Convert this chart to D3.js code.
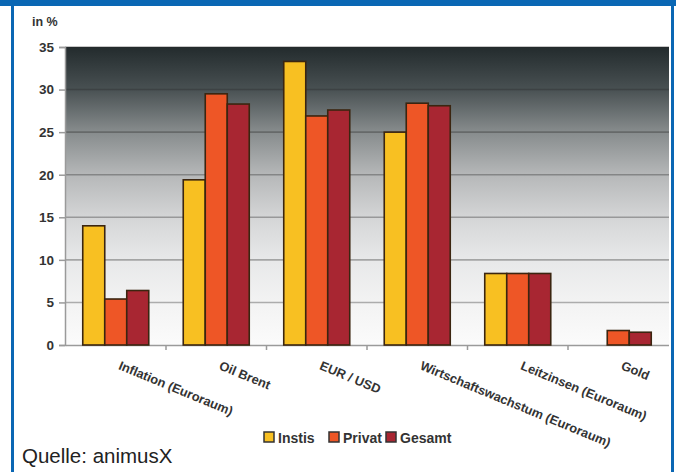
<!DOCTYPE html>
<html>
<head>
<meta charset="utf-8">
<script src="https://cdn.jsdelivr.net/npm/d3@7/dist/d3.min.js"></script>
<style>
  html, body { margin: 0; padding: 0; background: #fff; }
  svg { display: block; font-family: "Liberation Sans", Arial, sans-serif; }
</style>
</head>
<body>
<svg id="chart" width="676" height="472"></svg>
<script>
const categories = ["Inflation (Euroraum)", "Oil Brent", "EUR / USD", "Wirtschaftswachstum (Euroraum)", "Leitzinsen (Euroraum)", "Gold"];
const seriesNames = ["Instis", "Privat", "Gesamt"];
const instis = [14.0, 19.4, 33.3, 25.0, 8.4, 0];
const privat = [5.4, 29.5, 26.9, 28.4, 8.4, 1.7];
const gesamt = [6.4, 28.3, 27.6, 28.1, 8.4, 1.5];
const yTicks = [0, 5, 10, 15, 20, 25, 30, 35];
const colors = ["#f8c022", "#ee5626", "#a82632"];

const seriesValues = [instis, privat, gesamt];
const svg = d3.select("#chart");

// frame
const blue = "#0a67b4";
svg.append("rect").attr("x", 0).attr("y", 0).attr("width", 676).attr("height", 6).attr("fill", blue);
svg.append("rect").attr("x", 11).attr("y", 0).attr("width", 3).attr("height", 472).attr("fill", blue);
svg.append("rect").attr("x", 671).attr("y", 0).attr("width", 3).attr("height", 472).attr("fill", blue);

const plotL = 65, plotR = 669, plotT = 47, plotB = 345;
const x0 = d3.scaleBand().domain(categories).range([plotL + 0.5, plotR - 0.5]).padding(0);
const xs = d3.scaleBand().domain(seriesNames).range([0, x0.bandwidth()]).paddingInner(0).paddingOuter(0.784);
const y = d3.scaleLinear().domain([0, 35]).range([plotB, plotT]);

// gradient background
const defs = svg.append("defs");
const grad = defs.append("linearGradient").attr("id", "bg").attr("x1", 0).attr("y1", 0).attr("x2", 0).attr("y2", 1);
[[0, "#232b2d"], [0.14, "#485052"], [0.28, "#858a8b"], [0.43, "#b6b8b9"], [0.57, "#d4d5d6"], [0.71, "#e7e8e9"], [0.86, "#f3f3f3"], [1, "#fbfbfb"]]
  .forEach(([o, c]) => grad.append("stop").attr("offset", o).attr("stop-color", c));

svg.append("rect").attr("x", plotL).attr("y", plotT).attr("width", plotR - plotL).attr("height", plotB - plotT)
  .attr("fill", "url(#bg)");

// gridlines
svg.append("g").selectAll("line").data(yTicks.filter(d => d > 0)).join("line")
  .attr("x1", plotL).attr("x2", plotR)
  .attr("y1", d => y(d)).attr("y2", d => y(d))
  .attr("stroke", "rgba(40,40,40,0.35)").attr("stroke-width", 1.6);

// y axis
const yAxis = d3.axisLeft(y).tickValues(yTicks).tickSize(6).tickPadding(6);
const gy = svg.append("g").attr("transform", `translate(${plotL},0)`).call(yAxis);
gy.select(".domain").attr("stroke", "#9a9a9a").attr("stroke-width", 1.5);
gy.selectAll(".tick line").attr("stroke", "#9a9a9a").attr("stroke-width", 1.5);
gy.selectAll(".tick text").attr("font-size", 13.5).attr("font-weight", "bold").attr("fill", "#333").attr("x", -11);

// x axis
const xAxis = d3.axisBottom(x0).tickSize(0).tickFormat("");
const gx = svg.append("g").attr("transform", `translate(0,${plotB})`).call(xAxis);
gx.select(".domain").attr("stroke", "#9a9a9a").attr("stroke-width", 1.5);
// boundary ticks
svg.append("g").selectAll("line").data(categories.slice(1)).join("line")
  .attr("x1", d => x0(d)).attr("x2", d => x0(d))
  .attr("y1", plotB).attr("y2", plotB + 5)
  .attr("stroke", "#9a9a9a").attr("stroke-width", 1.5);

// bars
const groups = svg.append("g").selectAll("g").data(categories).join("g")
  .attr("transform", d => `translate(${x0(d)},0)`);
groups.selectAll("rect")
  .data((c, i) => seriesNames.map((s, j) => ({ s, v: seriesValues[j][i], j })).filter(d => d.v > 0))
  .join("rect")
  .attr("x", d => xs(d.s))
  .attr("width", xs.bandwidth())
  .attr("y", d => y(d.v))
  .attr("height", d => y(0) - y(d.v))
  .attr("fill", d => colors[d.j])
  .attr("stroke", "#3b2510").attr("stroke-width", 1.6);

// category labels
svg.append("g").selectAll("text").data(categories).join("text")
  .attr("transform", d => `translate(${x0(d) + x0.bandwidth() / 2 + 2},${plotB + 24}) rotate(22.5)`)
  .attr("font-size", 12.8).attr("font-weight", "bold").attr("fill", "#333")
  .text(d => d);

// "in %"
svg.append("text").attr("x", 32).attr("y", 26).attr("font-size", 12.5).attr("font-weight", "bold")
  .attr("fill", "#333").text("in %");

// legend
const legendX = [264, 329, 386];
const lg = svg.append("g").selectAll("g").data(seriesNames).join("g")
  .attr("transform", (d, i) => `translate(${legendX[i]},432)`);
lg.append("rect").attr("width", 10).attr("height", 10)
  .attr("fill", (d, i) => colors[i]).attr("stroke", "#333").attr("stroke-width", 1.5);
lg.append("text").attr("x", 14).attr("y", 10.5).attr("font-size", 14).attr("font-weight", "bold")
  .attr("fill", "#333").text(d => d);

// source
svg.append("text").attr("x", 22).attr("y", 463).attr("font-size", 20.5).attr("fill", "#222")
  .text("Quelle: animusX");
</script>
</body>
</html>
